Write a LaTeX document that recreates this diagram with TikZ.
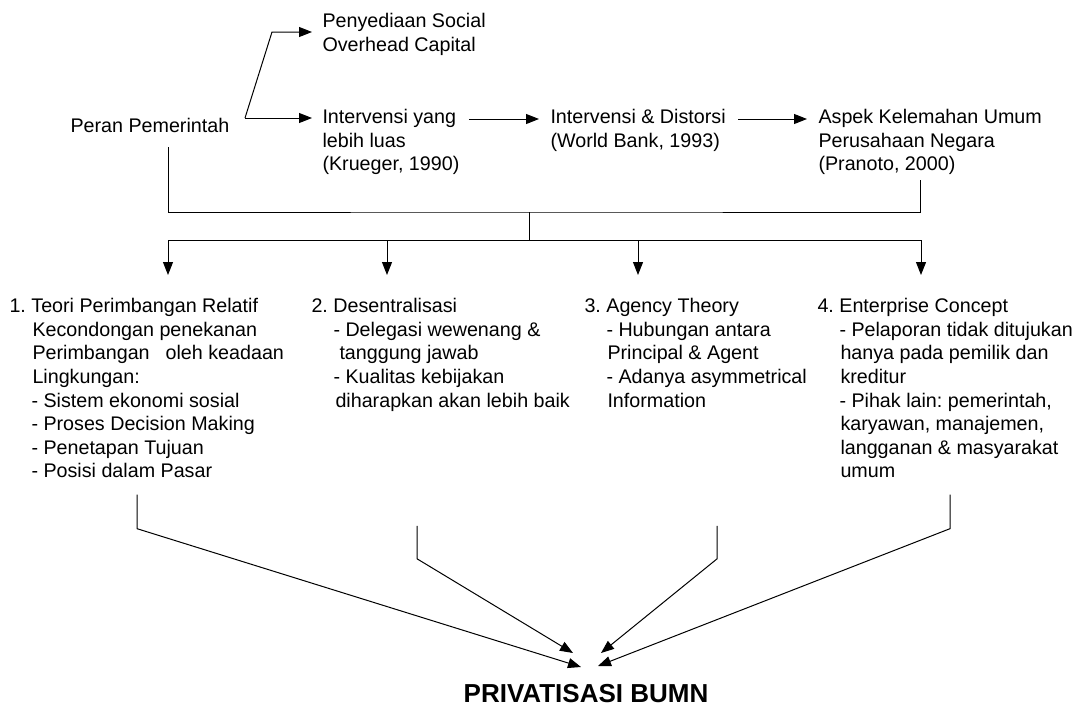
\documentclass[tikz,border=0pt]{standalone}
\usepackage{fontspec}
\setmainfont{Liberation Sans}
\frenchspacing
\usetikzlibrary{arrows.meta}
\begin{document}
\begin{tikzpicture}[x=1pt,y=-1pt,line width=1pt,
  txt/.style={inner sep=0pt,align=left,font=\fontsize{19.7}{23.6}\selectfont},
  blk/.style={txt,anchor=north west},
  arr/.style={-{Triangle[length=13pt,width=10pt]}}]
  \useasboundingbox (0,0) rectangle (1086,707);
  % upper row
  \node[txt,anchor=base west] (peran) at (70,132) {Peran Pemerintah};
  \node[blk] (sosial) at (322,13) {Penyediaan Social\\Overhead Capital};
  \node[blk] (luas) at (322,109) {Intervensi yang\\lebih luas\\(Krueger, 1990)};
  \node[blk] (distorsi) at (550,109) {Intervensi \& Distorsi\\(World Bank, 1993)};
  \node[blk] (aspek) at (818,109) {Aspek Kelemahan Umum\\Perusahaan Negara\\(Pranoto, 2000)};
  % four theories
  \node[blk] (teori) at (9,298) {1. Teori Perimbangan Relatif\\
    \hspace*{23pt}Kecondongan penekanan\\
    \hspace*{23pt}Perimbangan\hspace{16pt}oleh keadaan\\
    \hspace*{23pt}Lingkungan:\\
    \hspace*{22pt}- Sistem ekonomi sosial\\
    \hspace*{22pt}- Proses Decision Making\\
    \hspace*{22pt}- Penetapan Tujuan\\
    \hspace*{22pt}- Posisi dalam Pasar};
  \node[blk] (desentral) at (311,298) {2. Desentralisasi\\
    \hspace*{22pt}- Delegasi wewenang \&\\
    \hspace*{28pt}tanggung jawab\\
    \hspace*{22pt}- Kualitas kebijakan\\
    \hspace*{24pt}diharapkan akan lebih baik};
  \node[blk] (agency) at (584,298) {3. Agency Theory\\
    \hspace*{22pt}- Hubungan antara\\
    \hspace*{23pt}Principal \& Agent\\
    \hspace*{22pt}- Adanya asymmetrical\\
    \hspace*{23pt}Information};
  \node[blk] (enterprise) at (817,298) {4. Enterprise Concept\\
    \hspace*{22pt}- Pelaporan tidak ditujukan\\
    \hspace*{23pt}hanya pada pemilik dan\\
    \hspace*{23pt}kreditur\\
    \hspace*{22pt}- Pihak lain: pemerintah,\\
    \hspace*{23pt}karyawan, manajemen,\\
    \hspace*{23pt}langganan \& masyarakat\\
    \hspace*{23pt}umum};
  \node[inner sep=0pt,anchor=base,font=\fontsize{26}{30}\selectfont\bfseries] (privat) at (586,702) {PRIVATISASI BUMN};
  % arrows of the upper row
  \coordinate (fork) at (245,118);
  \draw[arr] (fork) -- ++(27,-86) -- ([shift={(-10pt,-19pt)}]sosial.north west);
  \draw[arr] (fork) -- ([shift={(-10pt,-9pt)}]luas.north west);
  \draw[arr] ([shift={(9pt,-10pt)}]luas.north east) -- ([shift={(-11pt,-10pt)}]distorsi.north west);
  \draw[arr] ([shift={(12pt,-10pt)}]distorsi.north east) -- ([shift={(-11pt,-10pt)}]aspek.north west);
  % bracket down to the theories
  \coordinate (peranOut) at ([shift={(98pt,-15pt)}]peran.base west);
  \coordinate (aspekOut) at ([shift={(102pt,-4pt)}]aspek.south west);
  \coordinate (join) at (529,212);
  \coordinate (split) at (529,240);
  \draw (peranOut) |- (join) -| (aspekOut);
  \draw (join) -- (split);
  \foreach \n/\dx in {teori/159pt,desentral/76pt,agency/54pt,enterprise/104pt}
  {
    \coordinate (in\n) at ([shift={(\dx,23pt)}]\n.north west);
    \draw[arr] (in\n |- split) -- (in\n);
  }
  \draw (inteori |- split) -- (inenterprise |- split);
  % into the privatisation
  \foreach \n/\dx/\dy/\drop/\tx/\ty in {teori/128pt/-16pt/34/-5pt/35pt,
    desentral/106pt/-114pt/33/-13pt/49pt,
    agency/133pt/-118pt/33/15pt/49pt,
    enterprise/133pt/-16pt/34/12pt/36pt}
  {
    \coordinate (out\n) at ([shift={(\dx,\dy)}]\n.south west);
    \draw[arr] (out\n) -- ++(0,\drop) -- ([shift={(\tx,\ty)}]privat.base);
  }
\end{tikzpicture}
\end{document}
